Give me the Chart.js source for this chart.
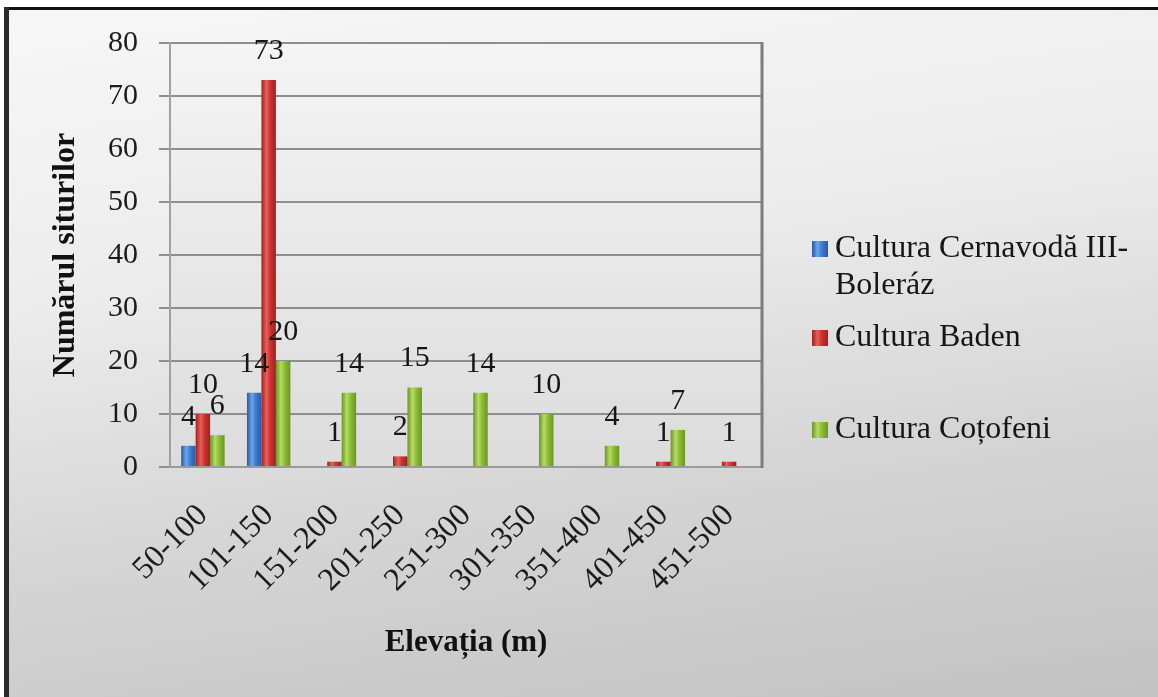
<!DOCTYPE html>
<html>
<head>
<meta charset="utf-8">
<script src="https://cdn.jsdelivr.net/npm/chart.js@4.4.1/dist/chart.umd.min.js"></script>
<style>
html,body{margin:0;padding:0;width:1158px;height:697px;overflow:hidden;background:#ffffff;}
#bg{position:absolute;left:9px;top:10px;width:1149px;height:687px;
  background:linear-gradient(172deg,#f7f7f7 0%,#ececec 35%,#d6d6d6 65%,#c2c2c2 100%);}
#topline{position:absolute;left:4px;top:7px;width:1154px;height:3px;background:#111;}
#leftline{position:absolute;left:4px;top:7px;width:5px;height:690px;background:#2a2a2a;}
#c{position:absolute;left:0;top:0;}
</style>
</head>
<body>
<div id="bg"></div>
<div id="topline"></div>
<div id="leftline"></div>
<canvas id="c" width="1158" height="697"></canvas>
<script>
// ---- data ----
const categories = ['50-100','101-150','151-200','201-250','251-300','301-350','351-400','401-450','451-500'];
const cernavoda = [4, 14, 0, 0, 0, 0, 0, 0, 0];
const baden     = [10, 73, 1, 2, 0, 0, 0, 1, 1];
const cotofeni  = [6, 20, 14, 15, 14, 10, 4, 7, 0];
const seriesNames = ['Cultura Cernavodă III-Boleráz', 'Cultura Baden', 'Cultura Coțofeni'];
const legendLines = [['Cultura Cernavodă III-', 'Boleráz'], ['Cultura Baden'], ['Cultura Coțofeni']];
const yMin = 0, yMax = 80, yStep = 10;
const xTitle = 'Elevația (m)';
const yTitle = 'Numărul siturilor';

const SERIF = "'Liberation Serif', 'Times New Roman', serif";
const palette = [
  {edge:'#2a5aa0', mid:'#3d7dd0', hi:'#6aa6ee'},
  {edge:'#a0201e', mid:'#cc3430', hi:'#e8605a'},
  {edge:'#6a9622', mid:'#8cbe36', hi:'#b6dc66'}
];

function barGradient(ctx, x0, x1, p){
  const g = ctx.createLinearGradient(x0, 0, x1, 0);
  g.addColorStop(0, p.edge);
  g.addColorStop(0.35, p.hi);
  g.addColorStop(0.6, p.mid);
  g.addColorStop(1, p.edge);
  return g;
}

const plotBg = {
  id:'plotBg',
  beforeDraw(chart){
    const {ctx, chartArea:a} = chart;
    ctx.save();
    const g = ctx.createLinearGradient(0, a.top, 0, a.bottom);
    g.addColorStop(0, '#f4f4f4');
    g.addColorStop(1, '#dcdcdc');
    ctx.fillStyle = g;
    ctx.fillRect(a.left, a.top, a.right - a.left, a.bottom - a.top);
    ctx.restore();
  },
  beforeDatasetsDraw(chart){
    const {ctx, chartArea:a} = chart;
    ctx.save();
    ctx.strokeStyle = '#7c7c7c';
    ctx.lineWidth = 3;
    ctx.beginPath();
    ctx.moveTo(a.right, a.top - 1);
    ctx.lineTo(a.right, a.bottom + 1);
    ctx.stroke();
    ctx.restore();
    chart.data.datasets.forEach((ds, i) => {
      const meta = chart.getDatasetMeta(i);
      meta.data.forEach(el => {
        const w = el.width;
        el.options.backgroundColor = barGradient(ctx, el.x - w/2, el.x + w/2, palette[i]);
      });
    });
  }
};

const dataLabels = {
  id:'dataLabels',
  afterDatasetsDraw(chart){
    const {ctx} = chart;
    ctx.save();
    ctx.font = '30px ' + SERIF;
    ctx.fillStyle = '#161616';
    ctx.textAlign = 'center';
    ctx.textBaseline = 'middle';
    chart.data.datasets.forEach((ds, i) => {
      const meta = chart.getDatasetMeta(i);
      meta.data.forEach((el, j) => {
        const v = ds.data[j];
        if (v > 0) ctx.fillText(String(v), el.x, el.y - 29);
      });
    });
    ctx.restore();
  }
};

const customLegend = {
  id:'customLegend',
  afterDraw(chart){
    const {ctx} = chart;
    const x0 = 812, textX = 835;
    const ys = [[249, 286], [338], [430]];
    ctx.save();
    ctx.font = '32px ' + SERIF;
    ctx.textAlign = 'left';
    ctx.textBaseline = 'middle';
    legendLines.forEach((lines, i) => {
      const y = ys[i][0];
      ctx.fillStyle = barGradient(ctx, x0, x0 + 16, palette[i]);
      ctx.fillRect(x0, y - 8, 16, 16);
      ctx.fillStyle = '#161616';
      lines.forEach((t, k) => ctx.fillText(t, textX, ys[i][k]));
    });
    ctx.restore();
  }
};

new Chart(document.getElementById('c'), {
  type:'bar',
  data:{
    labels:categories,
    datasets:[
      {label:seriesNames[0], data:cernavoda, backgroundColor:() => palette[0].mid},
      {label:seriesNames[1], data:baden, backgroundColor:() => palette[1].mid},
      {label:seriesNames[2], data:cotofeni, backgroundColor:() => palette[2].mid}
    ]
  },
  options:{
    responsive:false,
    animation:false,
    events:[],
    categoryPercentage:0.66,
    barPercentage:1.0,
    layout:{padding:{left:0, top:43, right:396, bottom:0}},
    plugins:{legend:{display:false}, tooltip:{enabled:false}},
    scales:{
      x:{
        grid:{display:false, drawTicks:false},
        border:{display:true, color:'#9a9a9a', width:2},
        ticks:{font:{family:SERIF, size:32}, color:'#1c1c1c', minRotation:45, maxRotation:45, padding:30, autoSkip:false},
        title:{display:true, text:xTitle, color:'#111', font:{family:SERIF, size:31, weight:'bold'}, padding:{top:0, bottom:35}},
        afterFit(s){ s.height = 230; }
      },
      y:{
        min:yMin, max:yMax,
        ticks:{stepSize:yStep, font:{family:SERIF, size:30}, color:'#1c1c1c', padding:21},
        grid:{color:'#8e8e8e', lineWidth:2, tickLength:11, drawTicks:true},
        border:{display:true, color:'#a0a0a0', width:2},
        title:{display:true, text:yTitle, color:'#111', font:{family:SERIF, size:32, weight:'bold'}, padding:{top:47, bottom:0}},
        afterFit(s){ s.width = 170; }
      }
    }
  },
  plugins:[plotBg, dataLabels, customLegend]
});
</script>
</body>
</html>
